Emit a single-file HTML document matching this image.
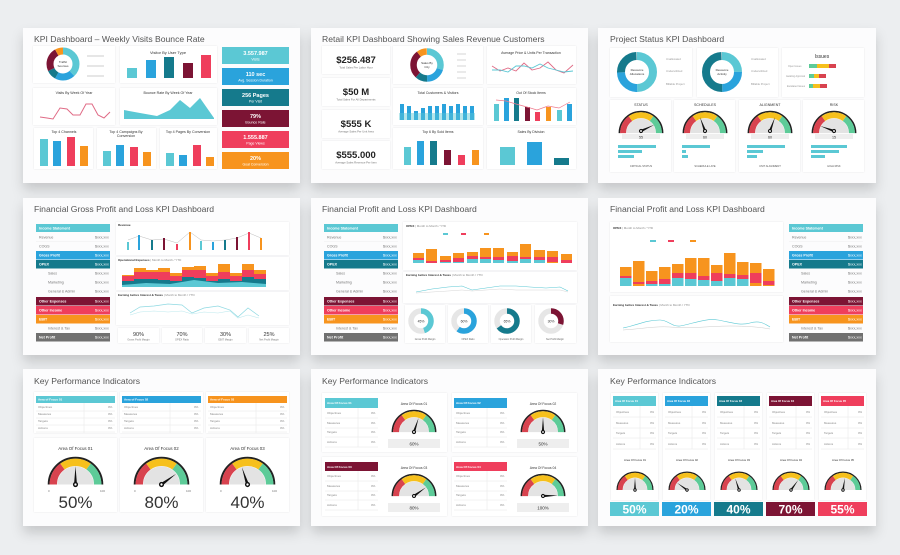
<!DOCTYPE html>
<html><head><meta charset="utf-8"><style>
html,body{margin:0;padding:0;background:#eceef0;}
svg{display:block;font-family:"Liberation Sans",sans-serif;}
</style></head><body>
<svg width="900" height="555" viewBox="0 0 900 555" xmlns="http://www.w3.org/2000/svg">
<defs>
<filter id="cs" x="-10%" y="-10%" width="120%" height="140%"><feDropShadow dx="0" dy="7" stdDeviation="6" flood-color="#000" flood-opacity="0.16"/></filter>
<filter id="ps" x="-10%" y="-10%" width="120%" height="120%"><feDropShadow dx="0" dy="0" stdDeviation="0.8" flood-color="#000" flood-opacity="0.10"/></filter>
<symbol id="g" viewBox="0 0 100 56">
<path d="M3 50 A47 47 0 0 1 97 50" fill="none" stroke="#222" stroke-width="3.5"/>
<path d="M11 50 A39 39 0 0 1 89 50" fill="none" stroke="#d8434f" stroke-width="13" pathLength="100" stroke-dasharray="30 200"/>
<path d="M11 50 A39 39 0 0 1 89 50" fill="none" stroke="#f6c01c" stroke-width="13" pathLength="100" stroke-dasharray="0 30 40 200"/>
<path d="M11 50 A39 39 0 0 1 89 50" fill="none" stroke="#5dcb98" stroke-width="13" pathLength="100" stroke-dasharray="0 70 30 200"/>
<path d="M18 50 A32 32 0 0 1 82 50 Z" fill="#e3e3e3"/>
</symbol>
<g id="n"><polygon points="-2.6,0 0,-32 2.6,0" fill="#111"/><circle r="4.5" fill="#111"/><circle r="2" fill="#fff"/></g>
<g id="tbl" font-size="3.6" fill="#777">
<rect x="36" y="224" width="74" height="8" fill="#5bc8d4"/><text x="39" y="229.5" fill="#fff" font-weight="bold">Income Statement</text>
<text x="39" y="238.5">Revenue</text><text x="95" y="238.5">$xxx,xxx</text><line x1="36" y1="241.5" x2="110" y2="241.5" stroke="#eee" stroke-width=".5"/>
<text x="39" y="247.5">COGS</text><text x="95" y="247.5">$xxx,xxx</text>
<rect x="36" y="251" width="74" height="8.5" fill="#2aa3dc"/><text x="39" y="256.5" fill="#fff" font-weight="bold">Gross Profit</text><text x="95" y="256.5" fill="#fff">$xxx,xxx</text>
<rect x="36" y="260" width="74" height="8.5" fill="#157a8c"/><text x="39" y="265.5" fill="#fff" font-weight="bold">OPEX</text><text x="95" y="265.5" fill="#fff">$xxx,xxx</text>
<text x="48" y="274.5">Sales</text><text x="95" y="274.5">$xxx,xxx</text>
<text x="48" y="283.5">Marketing</text><text x="95" y="283.5">$xxx,xxx</text>
<text x="48" y="292.5">General &amp; Admin</text><text x="95" y="292.5">$xxx,xxx</text>
<rect x="36" y="297" width="74" height="8.5" fill="#7c1434"/><text x="39" y="302.5" fill="#fff" font-weight="bold">Other Expenses</text><text x="95" y="302.5" fill="#fff">$xxx,xxx</text>
<rect x="36" y="306" width="74" height="8.5" fill="#ef3e5c"/><text x="39" y="311.5" fill="#fff" font-weight="bold">Other Income</text><text x="95" y="311.5" fill="#fff">$xxx,xxx</text>
<rect x="36" y="315" width="74" height="8.5" fill="#f7941e"/><text x="39" y="320.5" fill="#fff" font-weight="bold">EBIT</text><text x="95" y="320.5" fill="#fff">$xxx,xxx</text>
<text x="48" y="329.5">Interest &amp; Tax</text><text x="95" y="329.5">$xxx,xxx</text>
<rect x="36" y="333" width="74" height="8.5" fill="#707070"/><text x="39" y="338.5" fill="#fff" font-weight="bold">Net Profit</text><text x="95" y="338.5" fill="#fff">$xxx,xxx</text>
</g>
<g id="kr7" font-size="3" fill="#888">
<rect x="0" y="0" width="79" height="30" fill="#fff"/>
<text x="2" y="5">Objectives</text><text x="72" y="5">0%</text>
<text x="2" y="12">Measures</text><text x="72" y="12">0%</text>
<text x="2" y="19">Targets</text><text x="72" y="19">0%</text>
<text x="2" y="26">Actions</text><text x="72" y="26">0%</text>
<g stroke="#e6e6e6" stroke-width=".5"><line x1="0" y1="8" x2="79" y2="8"/><line x1="0" y1="15" x2="79" y2="15"/><line x1="0" y1="22" x2="79" y2="22"/><line x1="0" y1="29" x2="79" y2="29"/><line x1="48" y1="0" x2="48" y2="30"/></g>
</g>
<g id="kr8" font-size="3" fill="#888">
<text x="2" y="6">Objectives</text><text x="46" y="6">0%</text>
<text x="2" y="16">Measures</text><text x="46" y="16">0%</text>
<text x="2" y="25">Targets</text><text x="46" y="25">0%</text>
<text x="2" y="35">Actions</text><text x="46" y="35">0%</text>
<g stroke="#e6e6e6" stroke-width=".5"><line x1="0" y1="10" x2="53" y2="10"/><line x1="0" y1="20" x2="53" y2="20"/><line x1="0" y1="29" x2="53" y2="29"/><line x1="0" y1="39" x2="53" y2="39"/><line x1="33" y1="0" x2="33" y2="39"/></g>
</g>
<g id="kr9" font-size="2.8" fill="#888">
<text x="3" y="7">Objectives</text><text x="37" y="7">0%</text>
<text x="3" y="18">Measures</text><text x="37" y="18">0%</text>
<text x="3" y="28">Targets</text><text x="37" y="28">0%</text>
<text x="3" y="39">Actions</text><text x="37" y="39">0%</text>
<g stroke="#e6e6e6" stroke-width=".5"><line x1="0" y1="11" x2="43" y2="11"/><line x1="0" y1="22" x2="43" y2="22"/><line x1="0" y1="32" x2="43" y2="32"/><line x1="0" y1="43" x2="43" y2="43"/><line x1="27" y1="0" x2="27" y2="43"/></g>
</g>
</defs>

<!-- cards -->
<g fill="#fcfcfd" filter="url(#cs)">
<rect x="23" y="28" width="277" height="155"/><rect x="311" y="28" width="277" height="155"/><rect x="598" y="28" width="278" height="155"/>
<rect x="23" y="198" width="277" height="157"/><rect x="311" y="198" width="277" height="157"/><rect x="598" y="198" width="278" height="157"/>
<rect x="23" y="369" width="277" height="157"/><rect x="311" y="369" width="277" height="157"/><rect x="598" y="369" width="278" height="157"/>
</g>
<g font-size="8.6" fill="#555">
<text x="34" y="42">KPI Dashboard –  Weekly Visits Bounce Rate</text>
<text x="322" y="42">Retail KPI Dashboard Showing Sales Revenue Customers</text>
<text x="610" y="42">Project Status KPI Dashboard</text>
<text x="34" y="212">Financial Gross Profit and Loss KPI Dashboard</text>
<text x="322" y="212">Financial Profit and Loss KPI Dashboard</text>
<text x="610" y="212">Financial Profit and Loss KPI Dashboard</text>
<text x="34" y="384">Key Performance Indicators</text>
<text x="322" y="384">Key Performance Indicators</text>
<text x="610" y="384">Key Performance Indicators</text>
</g>

<!-- ===== Card 1 ===== -->
<g fill="#fff" filter="url(#ps)">
<rect x="33" y="46" width="82" height="37"/><rect x="120" y="46" width="97" height="37"/>
<rect x="33" y="88" width="82" height="37"/><rect x="120" y="88" width="97" height="37"/>
<rect x="34" y="128" width="59" height="41"/><rect x="97" y="128" width="59" height="41"/><rect x="160" y="128" width="57" height="41"/>
</g>
<g fill="none" stroke-width="7" transform="rotate(-90 63 64)">
<circle cx="63" cy="64" r="13" stroke="#5bc8d4" pathLength="100" stroke-dasharray="38 100"/>
<circle cx="63" cy="64" r="13" stroke="#2aa3dc" pathLength="100" stroke-dasharray="0 38 20 100"/>
<circle cx="63" cy="64" r="13" stroke="#157a8c" pathLength="100" stroke-dasharray="0 58 10 100"/>
<circle cx="63" cy="64" r="13" stroke="#7c1434" pathLength="100" stroke-dasharray="0 68 24 100"/>
<circle cx="63" cy="64" r="13" stroke="#f7941e" pathLength="100" stroke-dasharray="0 92 8 100"/>
</g>
<text x="63" y="63" font-size="3" text-anchor="middle" fill="#333">Traffic</text><text x="63" y="67" font-size="3" text-anchor="middle" fill="#333">Sources</text>
<g stroke="#ccc" stroke-width="1"><line x1="87" y1="56" x2="104" y2="56"/><line x1="87" y1="66" x2="104" y2="66"/><line x1="87" y1="76" x2="104" y2="76"/></g>
<text x="168" y="54" font-size="4" text-anchor="middle" fill="#333">Visitor By User Type</text>
<rect x="127" y="68" width="10" height="10" fill="#5bc8d4"/><rect x="146" y="60" width="10" height="18" fill="#2aa3dc"/><rect x="164" y="57" width="10" height="21" fill="#157a8c"/><rect x="183" y="63" width="10" height="15" fill="#7c1434"/><rect x="201" y="55" width="10" height="23" fill="#ef3e5c"/>
<text x="74" y="94" font-size="3.6" text-anchor="middle" fill="#333">Visits By Week Of Year</text>
<polyline points="40,117 47,118 53,119 60,108 67,109 73,115 80,115 86,104 92,104 98,115 104,118 110,112" fill="none" stroke="#e06b86" stroke-width="1"/>
<text x="168" y="94" font-size="3.6" text-anchor="middle" fill="#333">Bounce Rate By Week Of Year</text>
<polygon points="124,110 140,113 157,116 170,110 180,100 190,108 200,98 214,118 214,119 124,119" fill="#5bc8d4"/>
<text x="64" y="133" font-size="3.6" text-anchor="middle" fill="#333">Top 4 Channels</text>
<rect x="40" y="139" width="8" height="27" fill="#5bc8d4"/><rect x="53" y="141" width="8" height="25" fill="#2aa3dc"/><rect x="67" y="137" width="8" height="29" fill="#ef3e5c"/><rect x="80" y="146" width="8" height="20" fill="#f7941e"/>
<text x="126" y="133" font-size="3.6" text-anchor="middle" fill="#333">Top 4 Campaigns By</text><text x="126" y="137" font-size="3.6" text-anchor="middle" fill="#333">Conversion</text>
<rect x="103" y="151" width="8" height="15" fill="#5bc8d4"/><rect x="116" y="145" width="8" height="21" fill="#2aa3dc"/><rect x="130" y="147" width="8" height="19" fill="#ef3e5c"/><rect x="143" y="152" width="8" height="14" fill="#f7941e"/>
<text x="188" y="133" font-size="3.6" text-anchor="middle" fill="#333">Top 4 Pages By Conversion</text>
<rect x="166" y="153" width="8" height="13" fill="#5bc8d4"/><rect x="179" y="155" width="8" height="11" fill="#2aa3dc"/><rect x="193" y="145" width="8" height="21" fill="#ef3e5c"/><rect x="206" y="157" width="8" height="9" fill="#f7941e"/>
<g font-family="Liberation Sans" text-anchor="middle" fill="#fff">
<rect x="222" y="47" width="67" height="17" fill="#5bc8d4"/><text x="255.5" y="55" font-size="5.5" font-weight="bold">3.557.987</text><text x="255.5" y="60.5" font-size="3.5">Visits</text>
<rect x="222" y="68" width="67" height="17" fill="#2aa3dc"/><text x="255.5" y="76" font-size="5.5" font-weight="bold">110 sec</text><text x="255.5" y="81.5" font-size="3.5">Avg. Session Duration</text>
<rect x="222" y="89" width="67" height="17" fill="#157a8c"/><text x="255.5" y="97" font-size="5.5" font-weight="bold">256 Pages</text><text x="255.5" y="102.5" font-size="3.5">Per Visit</text>
<rect x="222" y="110" width="67" height="17" fill="#7c1434"/><text x="255.5" y="118" font-size="5.5" font-weight="bold">79%</text><text x="255.5" y="123.5" font-size="3.5">Bounce Rate</text>
<rect x="222" y="131" width="67" height="17" fill="#ef3e5c"/><text x="255.5" y="139" font-size="5.5" font-weight="bold">1.555.887</text><text x="255.5" y="144.5" font-size="3.5">Page Views</text>
<rect x="222" y="152" width="67" height="17" fill="#f7941e"/><text x="255.5" y="160" font-size="5.5" font-weight="bold">20%</text><text x="255.5" y="165.5" font-size="3.5">Goal Conversion</text>
</g>

<!-- ===== Card 2 ===== -->
<g fill="#fff" filter="url(#ps)">
<rect x="322" y="46" width="68" height="28"/><rect x="322" y="78" width="68" height="28"/><rect x="322" y="110" width="68" height="28"/><rect x="322" y="141" width="68" height="28"/>
<rect x="393" y="46" width="90" height="38"/><rect x="487" y="46" width="89" height="38"/>
<rect x="393" y="88" width="90" height="37"/><rect x="487" y="88" width="89" height="37"/>
<rect x="393" y="128" width="90" height="41"/><rect x="487" y="128" width="89" height="41"/>
</g>
<g text-anchor="middle" fill="#222">
<text x="356" y="63" font-size="9.5" font-weight="bold">$256.487</text><text x="356" y="68.5" font-size="2.8" fill="#777">Total Sales Per Labor Hour</text>
<text x="356" y="95" font-size="9.5" font-weight="bold">$50 M</text><text x="356" y="100.5" font-size="2.8" fill="#777">Total Sales For All Departments</text>
<text x="356" y="127" font-size="9.5" font-weight="bold">$555 K</text><text x="356" y="132.5" font-size="2.8" fill="#777">Average Sales Per Unit Area</text>
<text x="356" y="158" font-size="9.5" font-weight="bold">$555.000</text><text x="356" y="163.5" font-size="2.8" fill="#777">Average Sales Revenue Per Item</text>
</g>
<g fill="none" stroke-width="6.5" transform="rotate(-90 427 65)">
<circle cx="427" cy="65" r="13.5" stroke="#5bc8d4" pathLength="100" stroke-dasharray="30 100"/>
<circle cx="427" cy="65" r="13.5" stroke="#2aa3dc" pathLength="100" stroke-dasharray="0 30 20 100"/>
<circle cx="427" cy="65" r="13.5" stroke="#157a8c" pathLength="100" stroke-dasharray="0 50 12 100"/>
<circle cx="427" cy="65" r="13.5" stroke="#7c1434" pathLength="100" stroke-dasharray="0 62 28 100"/>
<circle cx="427" cy="65" r="13.5" stroke="#f7941e" pathLength="100" stroke-dasharray="0 90 10 100"/>
</g>
<text x="427" y="64" font-size="3" text-anchor="middle" fill="#333">Sales By</text><text x="427" y="68" font-size="3" text-anchor="middle" fill="#333">City</text>
<g stroke="#ccc" stroke-width=".8"><line x1="457" y1="54" x2="466" y2="54"/><line x1="457" y1="60" x2="466" y2="60"/><line x1="457" y1="66" x2="466" y2="66"/><line x1="457" y1="72" x2="466" y2="72"/><line x1="457" y1="78" x2="466" y2="78"/></g>
<text x="531" y="54" font-size="3.5" text-anchor="middle" fill="#333">Average Price &amp; Units Per Transaction</text>
<polyline points="492,66 500,71 508,68 516,71 524,63 532,70 540,68 548,62 556,70 564,73 573,65" fill="none" stroke="#e06b86" stroke-width=".9"/>
<polyline points="492,70 500,70 508,72 516,66 524,66 532,68 540,64 548,68 556,70 564,72 573,71" fill="none" stroke="#5bc8d4" stroke-width=".9"/>
<text x="438" y="94" font-size="3.5" text-anchor="middle" fill="#333">Total Customers &amp; Visitors</text>
<g fill="#2aa3dc">
<rect x="400" y="104" width="4" height="16"/><rect x="407" y="106" width="4" height="14"/><rect x="414" y="111" width="4" height="9"/><rect x="421" y="108" width="4" height="12"/><rect x="428" y="106" width="4" height="14"/><rect x="435" y="106" width="4" height="14"/><rect x="442" y="104" width="4" height="16"/><rect x="449" y="106" width="4" height="14"/><rect x="456" y="104" width="4" height="16"/><rect x="463" y="106" width="4" height="14"/><rect x="470" y="106" width="4" height="14"/>
</g>
<rect x="399" y="113" width="76" height="7" fill="#5bc8d4" opacity=".45"/>
<text x="531" y="94" font-size="3.5" text-anchor="middle" fill="#333">Out Of Stock Items</text>
<rect x="494" y="104" width="5" height="17" fill="#5bc8d4"/><rect x="504" y="98" width="5" height="23" fill="#2aa3dc"/><rect x="514" y="98" width="5" height="23" fill="#157a8c"/><rect x="525" y="107" width="5" height="14" fill="#7c1434"/><rect x="535" y="112" width="5" height="9" fill="#ef3e5c"/><rect x="546" y="107" width="5" height="14" fill="#f7941e"/><rect x="557" y="110" width="5" height="11" fill="#5bc8d4"/><rect x="567" y="104" width="5" height="17" fill="#2aa3dc"/>
<polyline points="496,100 506,101 516,104 527,107 537,110 548,106 559,108 570,102" fill="none" stroke="#ef7a8c" stroke-width=".7"/>
<text x="438" y="133" font-size="3.5" text-anchor="middle" fill="#333">Top 6 By Sold Items</text>
<rect x="404" y="147" width="7" height="18" fill="#5bc8d4"/><rect x="417" y="141" width="7" height="24" fill="#2aa3dc"/><rect x="430" y="141" width="7" height="24" fill="#157a8c"/><rect x="444" y="150" width="7" height="15" fill="#7c1434"/><rect x="458" y="155" width="7" height="10" fill="#ef3e5c"/><rect x="472" y="150" width="7" height="15" fill="#f7941e"/>
<text x="531" y="133" font-size="3.5" text-anchor="middle" fill="#333">Sales By Division</text>
<rect x="500" y="147" width="15" height="18" fill="#5bc8d4"/><rect x="527" y="142" width="15" height="23" fill="#2aa3dc"/><rect x="554" y="158" width="15" height="7" fill="#157a8c"/>

<!-- ===== Card 3 ===== -->
<g fill="#fff" filter="url(#ps)">
<rect x="610" y="48" width="82" height="49"/><rect x="697" y="48" width="81" height="49"/><rect x="782" y="48" width="82" height="49"/>
<rect x="610" y="100" width="61" height="72"/><rect x="674" y="100" width="61" height="72"/><rect x="739" y="100" width="61" height="72"/><rect x="803" y="100" width="61" height="72"/>
</g>
<g fill="none" stroke-width="8" transform="rotate(-90 637 72)">
<circle cx="637" cy="72" r="16" stroke="#5bc8d4" pathLength="100" stroke-dasharray="50 100"/>
<circle cx="637" cy="72" r="16" stroke="#2aa3dc" pathLength="100" stroke-dasharray="0 50 25 100"/>
<circle cx="637" cy="72" r="16" stroke="#157a8c" pathLength="100" stroke-dasharray="0 75 25 100"/>
</g>
<g fill="none" stroke-width="8" transform="rotate(-90 722 72)">
<circle cx="722" cy="72" r="16" stroke="#5bc8d4" pathLength="100" stroke-dasharray="25 100"/>
<circle cx="722" cy="72" r="16" stroke="#2aa3dc" pathLength="100" stroke-dasharray="0 25 25 100"/>
<circle cx="722" cy="72" r="16" stroke="#157a8c" pathLength="100" stroke-dasharray="0 50 50 100"/>
</g>
<g font-size="3" text-anchor="middle" fill="#333"><text x="637" y="71">Resource</text><text x="637" y="75">Allocations</text><text x="722" y="71">Resource</text><text x="722" y="75">Activity</text></g>
<g font-size="2.8" fill="#999"><text x="666" y="60">Unallocated</text><text x="666" y="72">Underutilized</text><text x="666" y="85">Billable Project</text><text x="751" y="60">Unallocated</text><text x="751" y="72">Underutilized</text><text x="751" y="85">Billable Project</text></g>
<text x="822" y="58" font-size="5" text-anchor="middle" fill="#333">Issues</text>
<g><rect x="809" y="64" width="8" height="4" fill="#5dcb98"/><rect x="817" y="64" width="12" height="4" fill="#f6c01c"/><rect x="829" y="64" width="7" height="4" fill="#d8434f"/>
<rect x="809" y="74" width="5" height="4" fill="#5dcb98"/><rect x="814" y="74" width="5" height="4" fill="#f6c01c"/><rect x="819" y="74" width="7" height="4" fill="#d8434f"/>
<rect x="809" y="84" width="4" height="4" fill="#5dcb98"/><rect x="813" y="84" width="7" height="4" fill="#f6c01c"/><rect x="820" y="84" width="7" height="4" fill="#d8434f"/></g>
<g font-size="2.4" fill="#999"><text x="788" y="67">Open Issues</text><text x="786" y="77">Awaiting Approval</text><text x="787" y="87">Escalated Issues</text></g>
<g font-size="3.6" text-anchor="middle" fill="#333"><text x="641" y="106">STATUS</text><text x="705" y="106">SCHEDULES</text><text x="770" y="106">ALIGNMENT</text><text x="834" y="106">RISK</text></g>
<use href="#g" x="618" y="110" width="46" height="26"/><use href="#g" x="682" y="110" width="46" height="26"/><use href="#g" x="747" y="110" width="46" height="26"/><use href="#g" x="811" y="110" width="46" height="26"/>
<use href="#n" transform="translate(641 131) rotate(65) scale(.46)"/><use href="#n" transform="translate(705 131) rotate(-20) scale(.46)"/><use href="#n" transform="translate(770 131) rotate(20) scale(.46)"/><use href="#n" transform="translate(834 131) rotate(-70) scale(.46)"/>
<g fill="#eee"><rect x="622" y="134" width="38" height="5"/><rect x="686" y="134" width="38" height="5"/><rect x="751" y="134" width="38" height="5"/><rect x="815" y="134" width="38" height="5"/></g>
<g font-size="3.6" text-anchor="middle" fill="#333"><text x="641" y="138.5">55</text><text x="705" y="138.5">60</text><text x="770" y="138.5">60</text><text x="834" y="138.5">15</text></g>
<g fill="#5bc8d4">
<rect x="618" y="145" width="38" height="3"/><rect x="618" y="150" width="24" height="3"/><rect x="618" y="155" width="16" height="3"/>
<rect x="682" y="145" width="28" height="3"/><rect x="682" y="150" width="4" height="3"/><rect x="682" y="155" width="6" height="3"/>
<rect x="747" y="145" width="38" height="3"/><rect x="747" y="150" width="16" height="3"/><rect x="747" y="155" width="10" height="3"/>
<rect x="811" y="145" width="36" height="3"/><rect x="811" y="150" width="28" height="3"/><rect x="811" y="155" width="14" height="3"/>
</g>
<g font-size="2.6" text-anchor="middle" fill="#555"><text x="641" y="167">CRITICAL STATUS</text><text x="705" y="167">SCHEDULE LATE</text><text x="770" y="167">UNIT ALIGNMENT</text><text x="834" y="167">HIGH RISK</text></g>

<!-- ===== Card 4 ===== -->
<use href="#tbl"/>
<g fill="#fff" filter="url(#ps)">
<rect x="116" y="222" width="173" height="33"/><rect x="116" y="257" width="173" height="33"/><rect x="116" y="292" width="173" height="33"/>
<rect x="118" y="328" width="41" height="15"/><rect x="162" y="328" width="40" height="15"/><rect x="205" y="328" width="41" height="15"/><rect x="249" y="328" width="40" height="15"/>
</g>
<g font-size="3" fill="#333" font-weight="bold"><text x="118" y="226">Revenue</text><text x="118" y="261">Operational Expenses <tspan font-weight="normal" fill="#888">| Month to Month / YTD</tspan></text><text x="118" y="296">Earning before Interest &amp; Taxes <tspan font-weight="normal" fill="#888">| Month to Month / YTD</tspan></text></g>
<polyline points="128,240 139,236 152,240 164,239 177,243 190,232 201,240 213,241 225,240 237,238 249,233 261,238" fill="none" stroke="#aaa" stroke-width=".4"/>
<g stroke-width="2"><line x1="128" y1="242" x2="128" y2="250" stroke="#5bc8d4"/><line x1="139" y1="235" x2="139" y2="250" stroke="#2aa3dc"/><line x1="152" y1="240" x2="152" y2="250" stroke="#157a8c"/><line x1="164" y1="238" x2="164" y2="250" stroke="#7c1434"/><line x1="177" y1="244" x2="177" y2="250" stroke="#ef3e5c"/><line x1="190" y1="232" x2="190" y2="250" stroke="#f7941e"/><line x1="201" y1="241" x2="201" y2="250" stroke="#5bc8d4"/><line x1="213" y1="242" x2="213" y2="250" stroke="#2aa3dc"/><line x1="225" y1="240" x2="225" y2="250" stroke="#157a8c"/><line x1="237" y1="237" x2="237" y2="250" stroke="#7c1434"/><line x1="249" y1="232" x2="249" y2="250" stroke="#ef3e5c"/><line x1="261" y1="238" x2="261" y2="250" stroke="#f7941e"/></g>
<g fill="#f7941e"><rect x="122" y="275" width="12" height="12"/><rect x="134" y="268" width="12" height="19"/><rect x="146" y="270" width="12" height="17"/><rect x="158" y="268" width="12" height="19"/><rect x="170" y="273" width="12" height="14"/><rect x="182" y="267" width="12" height="20"/><rect x="194" y="266" width="12" height="21"/><rect x="206" y="273" width="12" height="14"/><rect x="218" y="264" width="12" height="23"/><rect x="230" y="273" width="12" height="14"/><rect x="242" y="264" width="12" height="23"/><rect x="254" y="270" width="12" height="17"/></g>
<g fill="#ef3e5c"><rect x="122" y="276" width="12" height="11"/><rect x="134" y="272" width="12" height="15"/><rect x="146" y="272" width="12" height="15"/><rect x="158" y="272" width="12" height="15"/><rect x="170" y="276" width="12" height="11"/><rect x="182" y="270" width="12" height="17"/><rect x="194" y="270" width="12" height="17"/><rect x="206" y="276" width="12" height="11"/><rect x="218" y="272" width="12" height="15"/><rect x="230" y="276" width="12" height="11"/><rect x="242" y="270" width="12" height="17"/><rect x="254" y="274" width="12" height="13"/></g>
<g fill="#157a8c"><rect x="122" y="281" width="12" height="6"/><rect x="134" y="279" width="12" height="8"/><rect x="146" y="279" width="12" height="8"/><rect x="158" y="280" width="12" height="7"/><rect x="170" y="281" width="12" height="6"/><rect x="182" y="277" width="12" height="10"/><rect x="194" y="278" width="12" height="9"/><rect x="206" y="281" width="12" height="6"/><rect x="218" y="279" width="12" height="8"/><rect x="230" y="281" width="12" height="6"/><rect x="242" y="277" width="12" height="10"/><rect x="254" y="279" width="12" height="8"/></g>
<polygon points="122,285 146,283 170,284 194,280 218,283 242,282 266,284 266,287 122,287" fill="#5bc8d4"/>
<polyline points="130,313 140,307 154,306 168,304 182,305 192,313 204,308 218,306 230,310 238,317 248,308 259,316" fill="none" stroke="#8fd9e2" stroke-width=".7"/>
<polyline points="130,315 140,312 154,311 168,312 182,311 192,314 204,312 218,313 230,311 238,318 248,315 259,318" fill="none" stroke="#bde9ee" stroke-width=".6"/>
<g text-anchor="middle" fill="#333"><text x="138.5" y="336" font-size="5.5">90%</text><text x="182" y="336" font-size="5.5">70%</text><text x="225.5" y="336" font-size="5.5">30%</text><text x="269" y="336" font-size="5.5">25%</text>
<g font-size="2.6" fill="#777"><text x="138.5" y="340.5">Gross Profit Margin</text><text x="182" y="340.5">OPEX Ratio</text><text x="225.5" y="340.5">EBIT Margin</text><text x="269" y="340.5">Net Profit Margin</text></g></g>

<!-- ===== Card 5 ===== -->
<use href="#tbl" x="288"/>
<g fill="#fff" filter="url(#ps)">
<rect x="403" y="222" width="174" height="48"/><rect x="403" y="272" width="174" height="31"/>
<rect x="405" y="305" width="40" height="38"/><rect x="448" y="305" width="40" height="38"/><rect x="491" y="305" width="40" height="38"/><rect x="535" y="305" width="41" height="38"/>
</g>
<g font-size="3" fill="#333" font-weight="bold"><text x="406" y="227">OPEX <tspan font-weight="normal" fill="#888">| Month to Month / YTD</tspan></text><text x="406" y="276">Earning before Interest &amp; Taxes <tspan font-weight="normal" fill="#888">| Month to Month / YTD</tspan></text></g>
<g><rect x="443" y="233" width="5" height="2" fill="#5bc8d4"/><rect x="461" y="233" width="5" height="2" fill="#ef3e5c"/><rect x="484" y="233" width="5" height="2" fill="#f7941e"/></g>
<g fill="#f7941e"><rect x="413" y="253" width="11" height="10"/><rect x="426" y="249" width="11" height="14"/><rect x="440" y="256" width="11" height="7"/><rect x="453" y="253" width="11" height="10"/><rect x="467" y="252" width="11" height="11"/><rect x="480" y="248" width="11" height="15"/><rect x="493" y="248" width="11" height="15"/><rect x="507" y="252" width="11" height="11"/><rect x="520" y="244" width="11" height="19"/><rect x="534" y="250" width="11" height="13"/><rect x="547" y="251" width="11" height="12"/><rect x="561" y="254" width="11" height="9"/></g>
<g fill="#ef3e5c"><rect x="413" y="258" width="11" height="2"/><rect x="426" y="261" width="11" height="2"/><rect x="440" y="260" width="11" height="3"/><rect x="453" y="258" width="11" height="4"/><rect x="467" y="256" width="11" height="3"/><rect x="480" y="257" width="11" height="2"/><rect x="493" y="257" width="11" height="3"/><rect x="507" y="256" width="11" height="5"/><rect x="520" y="257" width="11" height="2"/><rect x="534" y="257" width="11" height="3"/><rect x="547" y="257" width="11" height="5"/><rect x="561" y="260" width="11" height="3"/></g>
<g fill="#5bc8d4"><rect x="413" y="260" width="11" height="3"/><rect x="440" y="262" width="11" height="1"/><rect x="453" y="262" width="11" height="1"/><rect x="467" y="259" width="11" height="4"/><rect x="480" y="259" width="11" height="4"/><rect x="493" y="260" width="11" height="3"/><rect x="507" y="261" width="11" height="2"/><rect x="520" y="259" width="11" height="4"/><rect x="534" y="260" width="11" height="3"/></g>
<polyline points="416,292 432,289 448,287 462,286 472,290 486,288 500,286 516,286 530,287 546,288 560,287 568,291" fill="none" stroke="#5bc8d4" stroke-width=".6"/>
<polyline points="416,293 432,292 448,291 462,290 472,291 486,290 500,289 516,290 530,290 546,290 560,290 568,292" fill="none" stroke="#ccc" stroke-width=".4"/>
<g fill="none" stroke-width="5.5">
<circle cx="421" cy="321" r="10" stroke="#e6e6e6"/><circle cx="421" cy="321" r="10" stroke="#5bc8d4" pathLength="100" stroke-dasharray="45 100" transform="rotate(-90 421 321)"/>
<circle cx="464" cy="321" r="10" stroke="#e6e6e6"/><circle cx="464" cy="321" r="10" stroke="#2aa3dc" pathLength="100" stroke-dasharray="60 100" transform="rotate(-90 464 321)"/>
<circle cx="507" cy="321" r="10" stroke="#e6e6e6"/><circle cx="507" cy="321" r="10" stroke="#157a8c" pathLength="100" stroke-dasharray="65 100" transform="rotate(-90 507 321)"/>
<circle cx="551" cy="321" r="10" stroke="#e6e6e6"/><circle cx="551" cy="321" r="10" stroke="#7c1434" pathLength="100" stroke-dasharray="30 100" transform="rotate(-90 551 321)"/>
</g>
<g font-size="3.4" text-anchor="middle" fill="#333"><text x="421" y="322.5">45%</text><text x="464" y="322.5">60%</text><text x="507" y="322.5">65%</text><text x="551" y="322.5">30%</text></g>
<g font-size="2.4" text-anchor="middle" fill="#666"><text x="425" y="340">Gross Profit Margin</text><text x="468" y="340">OPEX Ratio</text><text x="511" y="340">Operation Profit Margin</text><text x="555" y="340">Net Profit Margin</text></g>

<!-- ===== Card 6 ===== -->
<use href="#tbl" x="753"/>
<g fill="#fff" filter="url(#ps)"><rect x="610" y="222" width="173" height="70"/><rect x="610" y="296" width="173" height="46"/></g>
<g font-size="3" fill="#333" font-weight="bold"><text x="613" y="229">OPEX <tspan font-weight="normal" fill="#888">| Month to Month / YTD</tspan></text><text x="613" y="306">Earning before Interest &amp; Taxes <tspan font-weight="normal" fill="#888">| Month to Month / YTD</tspan></text></g>
<g><rect x="650" y="240" width="6" height="2" fill="#5bc8d4"/><rect x="668" y="240" width="6" height="2" fill="#ef3e5c"/><rect x="690" y="240" width="6" height="2" fill="#f7941e"/></g>
<g fill="#f7941e"><rect x="620" y="267" width="11.5" height="19"/><rect x="633" y="261" width="11.5" height="25"/><rect x="646" y="271" width="11.5" height="15"/><rect x="659" y="267" width="11.5" height="19"/><rect x="672" y="264" width="11.5" height="22"/><rect x="685" y="258" width="11.5" height="28"/><rect x="698" y="258" width="11.5" height="28"/><rect x="711" y="265" width="11.5" height="21"/><rect x="724" y="253" width="11.5" height="33"/><rect x="737" y="262" width="11.5" height="24"/><rect x="750" y="263" width="11.5" height="23"/><rect x="763" y="269" width="11.5" height="17"/></g>
<g fill="#ef3e5c"><rect x="620" y="276" width="11.5" height="2"/><rect x="633" y="282" width="11.5" height="2"/><rect x="646" y="281" width="11.5" height="3"/><rect x="659" y="279" width="11.5" height="5"/><rect x="672" y="273" width="11.5" height="5"/><rect x="685" y="273" width="11.5" height="6"/><rect x="698" y="276" width="11.5" height="4"/><rect x="711" y="273" width="11.5" height="8"/><rect x="724" y="274" width="11.5" height="4"/><rect x="737" y="275" width="11.5" height="4"/><rect x="750" y="273" width="11.5" height="10"/><rect x="763" y="281" width="11.5" height="4"/></g>
<g fill="#5bc8d4"><rect x="620" y="278" width="11.5" height="8"/><rect x="646" y="284" width="11.5" height="2"/><rect x="659" y="284" width="11.5" height="2"/><rect x="672" y="278" width="11.5" height="8"/><rect x="685" y="279" width="11.5" height="7"/><rect x="698" y="280" width="11.5" height="6"/><rect x="711" y="281" width="11.5" height="5"/><rect x="724" y="278" width="11.5" height="8"/><rect x="737" y="279" width="11.5" height="7"/></g>
<path d="M623 328 C635 326 645 320 660 320 C668 320 672 327 680 326 C692 324 705 318 718 320 C730 322 740 326 750 323 C760 320 765 324 770 327" fill="none" stroke="#5bc8d4" stroke-width=".6"/>
<path d="M623 330 C640 329 655 326 670 327 C690 329 710 326 730 326 C745 326 760 327 770 329" fill="none" stroke="#ccc" stroke-width=".5"/>

<!-- ===== Card 7 ===== -->
<g fill="#fff" filter="url(#ps)">
<rect x="34" y="392" width="83" height="41"/><rect x="120" y="392" width="83" height="41"/><rect x="206" y="392" width="83" height="41"/>
<rect x="34" y="438" width="83" height="74"/><rect x="120" y="438" width="83" height="74"/><rect x="206" y="438" width="83" height="74"/>
</g>
<rect x="36" y="396" width="79" height="7" fill="#5bc8d4"/><rect x="122" y="396" width="79" height="7" fill="#2aa3dc"/><rect x="208" y="396" width="79" height="7" fill="#f7941e"/>
<g font-size="3" fill="#fff" font-weight="bold"><text x="38" y="400.5">Area of Focus 01</text><text x="124" y="400.5">Area of Focus 02</text><text x="210" y="400.5">Area of Focus 03</text></g>
<use href="#kr7" x="36" y="403"/><use href="#kr7" x="122" y="403"/><use href="#kr7" x="208" y="403"/>
<g font-size="4.4" text-anchor="middle" fill="#333"><text x="75.5" y="450">Area Of Focus 01</text><text x="161.5" y="450">Area Of Focus 02</text><text x="247.5" y="450">Area Of Focus 03</text></g>
<use href="#g" x="47" y="456" width="57" height="32"/><use href="#g" x="133" y="456" width="57" height="32"/><use href="#g" x="219" y="456" width="57" height="32"/>
<use href="#n" transform="translate(75.5 484.5) rotate(0) scale(.57)"/><use href="#n" transform="translate(161.5 484.5) rotate(54) scale(.57)"/><use href="#n" transform="translate(247.5 484.5) rotate(-18) scale(.57)"/>
<g font-size="3" fill="#777"><text x="48" y="492">0</text><text x="100" y="492">100</text><text x="134" y="492">0</text><text x="186" y="492">100</text><text x="220" y="492">0</text><text x="272" y="492">100</text></g>
<g font-size="17" text-anchor="middle" fill="#333"><text x="75.5" y="508">50%</text><text x="161.5" y="508">80%</text><text x="247.5" y="508">40%</text></g>

<!-- ===== Card 8 ===== -->
<g fill="#fff" filter="url(#ps)"><rect x="322" y="393" width="125" height="59"/><rect x="452" y="393" width="125" height="59"/><rect x="322" y="457" width="125" height="59"/><rect x="452" y="457" width="125" height="59"/></g>
<rect x="325" y="398" width="53" height="10" fill="#5bc8d4"/><rect x="454" y="398" width="53" height="10" fill="#2aa3dc"/><rect x="325" y="462" width="53" height="9" fill="#7c1434"/><rect x="454" y="462" width="53" height="9" fill="#ef3e5c"/>
<g font-size="3" fill="#fff" font-weight="bold"><text x="327" y="404">Area Of Focus 01</text><text x="456" y="404">Area Of Focus 02</text><text x="327" y="468">Area Of Focus 03</text><text x="456" y="468">Area Of Focus 04</text></g>
<use href="#kr8" x="325" y="408"/><use href="#kr8" x="454" y="408"/><use href="#kr8" x="325" y="471"/><use href="#kr8" x="454" y="471"/>
<g font-size="3.4" text-anchor="middle" fill="#333"><text x="414" y="405">Area Of Focus 01</text><text x="543" y="405">Area Of Focus 02</text><text x="414" y="469">Area Of Focus 03</text><text x="543" y="469">Area Of Focus 04</text></g>
<use href="#g" x="391" y="409" width="46" height="26"/><use href="#g" x="520" y="409" width="46" height="26"/><use href="#g" x="391" y="473" width="46" height="26"/><use href="#g" x="520" y="473" width="46" height="26"/>
<use href="#n" transform="translate(414 432) rotate(18) scale(.46)"/><use href="#n" transform="translate(543 432) rotate(0) scale(.46)"/><use href="#n" transform="translate(414 496) rotate(54) scale(.46)"/><use href="#n" transform="translate(543 496) rotate(88) scale(.46)"/>
<g fill="#eee"><rect x="388" y="439" width="52" height="9"/><rect x="517" y="439" width="52" height="9"/><rect x="388" y="503" width="52" height="9"/><rect x="517" y="503" width="52" height="9"/></g>
<g font-size="4.5" text-anchor="middle" fill="#333"><text x="414" y="445.5">60%</text><text x="543" y="445.5">50%</text><text x="414" y="509.5">80%</text><text x="543" y="509.5">100%</text></g>

<!-- ===== Card 9 ===== -->
<g fill="#fff" filter="url(#ps)"><rect x="611" y="393" width="47" height="107"/><rect x="663" y="393" width="47" height="107"/><rect x="715" y="393" width="47" height="107"/><rect x="767" y="393" width="47" height="107"/><rect x="819" y="393" width="47" height="107"/></g>
<rect x="613" y="396" width="43" height="10" fill="#5bc8d4"/><rect x="665" y="396" width="43" height="10" fill="#2aa3dc"/><rect x="717" y="396" width="43" height="10" fill="#157a8c"/><rect x="769" y="396" width="43" height="10" fill="#7c1434"/><rect x="821" y="396" width="43" height="10" fill="#ef3e5c"/>
<g font-size="2.8" fill="#fff" font-weight="bold"><text x="615" y="402">Area Of Focus 01</text><text x="667" y="402">Area Of Focus 02</text><text x="719" y="402">Area Of Focus 03</text><text x="771" y="402">Area Of Focus 04</text><text x="823" y="402">Area Of Focus 05</text></g>
<use href="#kr9" x="613" y="406"/><use href="#kr9" x="665" y="406"/><use href="#kr9" x="717" y="406"/><use href="#kr9" x="769" y="406"/><use href="#kr9" x="821" y="406"/>
<g font-size="2.8" text-anchor="middle" fill="#333"><text x="635" y="461">Area Of Focus 01</text><text x="687" y="461">Area Of Focus 02</text><text x="739" y="461">Area Of Focus 03</text><text x="791" y="461">Area Of Focus 04</text><text x="843" y="461">Area Of Focus 05</text></g>
<use href="#g" x="616" y="471" width="38" height="21.3"/><use href="#g" x="668" y="471" width="38" height="21.3"/><use href="#g" x="720" y="471" width="38" height="21.3"/><use href="#g" x="772" y="471" width="38" height="21.3"/><use href="#g" x="824" y="471" width="38" height="21.3"/>
<use href="#n" transform="translate(635 490) rotate(0) scale(.38)"/><use href="#n" transform="translate(687 490) rotate(-54) scale(.38)"/><use href="#n" transform="translate(739 490) rotate(-18) scale(.38)"/><use href="#n" transform="translate(791 490) rotate(36) scale(.38)"/><use href="#n" transform="translate(843 490) rotate(9) scale(.38)"/>
<rect x="610" y="502" width="49" height="14" fill="#5bc8d4"/><rect x="662" y="502" width="49" height="14" fill="#2aa3dc"/><rect x="714" y="502" width="49" height="14" fill="#157a8c"/><rect x="766" y="502" width="49" height="14" fill="#7c1434"/><rect x="818" y="502" width="49" height="14" fill="#ef3e5c"/>
<g font-size="12" font-weight="bold" text-anchor="middle" fill="#fff"><text x="634.5" y="513.5">50%</text><text x="686.5" y="513.5">20%</text><text x="738.5" y="513.5">40%</text><text x="790.5" y="513.5">70%</text><text x="842.5" y="513.5">55%</text></g>
</svg>
</body></html>
